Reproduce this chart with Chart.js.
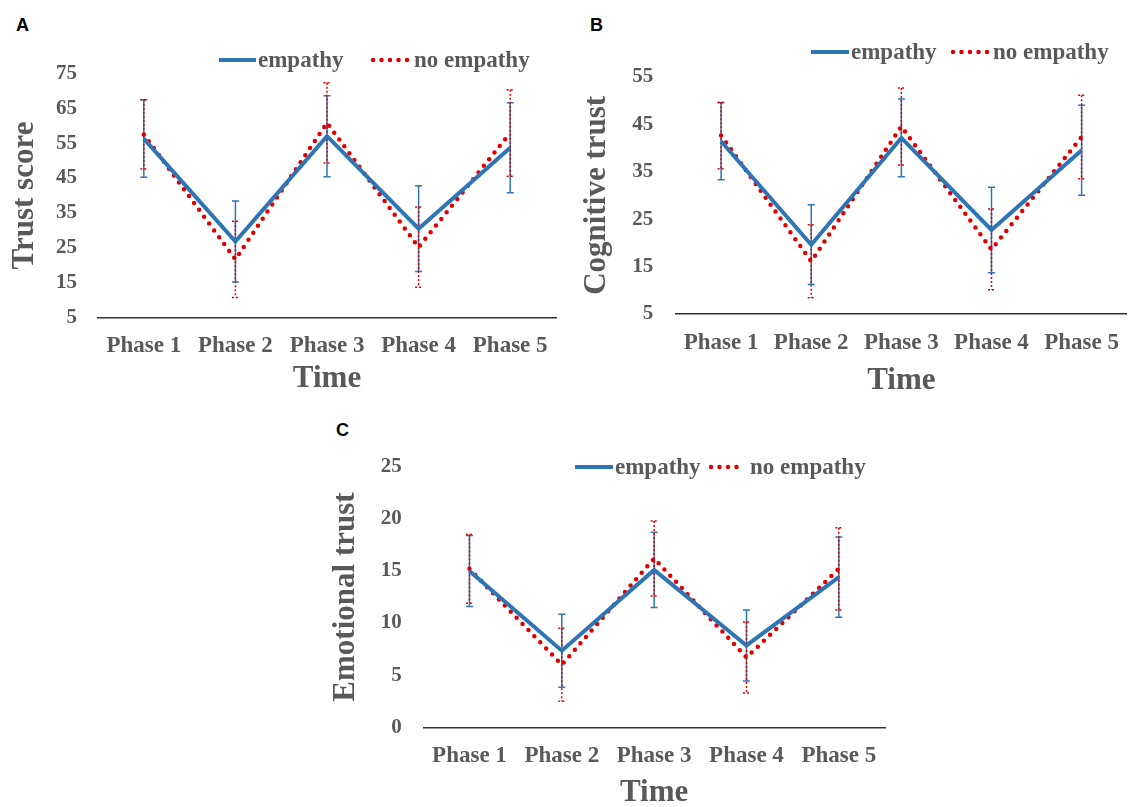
<!DOCTYPE html>
<html>
<head>
<meta charset="utf-8">
<script src="https://cdn.jsdelivr.net/npm/chart.js@4.4.0/dist/chart.umd.min.js"></script>
<style>
  html, body { margin: 0; padding: 0; background: #fff; }
  body { position: relative; width: 1134px; height: 807px; overflow: hidden; }
  canvas { position: absolute; }
  .letter { position: absolute; font: bold 18px 'Liberation Sans', Arial, sans-serif; line-height: 18px; color: #000; }
</style>
</head>
<body>
<div class="letter" style="left:16px;top:16px">A</div>
<div class="letter" style="left:590px;top:16px">B</div>
<div class="letter" style="left:336px;top:421px">C</div>
<canvas id="chartA" width="567" height="398" style="left:0;top:0"></canvas>
<canvas id="chartB" width="564" height="400" style="left:570px;top:0"></canvas>
<canvas id="chartC" width="580" height="395" style="left:320px;top:417px"></canvas>
<script>
// categories and series names
const phases = ['Phase 1', 'Phase 2', 'Phase 3', 'Phase 4', 'Phase 5'];
const seriesNames = ['empathy', 'no empathy'];

// A: trust score (mean and error)
const trustEmpathy = [56.3, 26.8, 57.0, 30.5, 53.7];
const trustEmpathyErr = [11.1, 11.6, 11.6, 12.3, 12.9];
const trustNoEmpathy = [57.5, 21.7, 60.8, 25.2, 57.9];
const trustNoEmpathyErr = [9.9, 10.9, 11.5, 11.5, 12.4];

// B: cognitive trust
const cogEmpathy = [41.4, 19.6, 42.1, 22.7, 39.5];
const cogEmpathyErr = [8.1, 8.4, 8.2, 9.0, 9.5];
const cogNoEmpathy = [42.6, 16.1, 44.5, 18.6, 42.3];
const cogNoEmpathyErr = [7.0, 7.7, 8.1, 8.5, 8.8];

// C: emotional trust
const emoEmpathy = [15.0, 7.35, 15.1, 7.85, 14.4];
const emoEmpathyErr = [3.4, 3.5, 3.6, 3.4, 3.85];
const emoNoEmpathy = [15.2, 6.0, 16.2, 6.7, 15.2];
const emoNoEmpathyErr = [3.3, 3.5, 3.6, 3.4, 3.95];

// y axis ranges [min, max, step]
const trustRange = [5, 75, 10];
const cogRange = [5, 55, 10];
const emoRange = [0, 25, 5];

const BLUE = '#2E75B6';
const RED = '#E00000';
const GREY = '#595959';
const SERIF = "'Liberation Serif', 'Times New Roman', serif";

// error bars, drawn under the lines
const errorBars = {
    id: 'errorBars',
    beforeDatasetsDraw(chart) {
        const ctx = chart.ctx;
        const y = chart.scales.y;
        chart.data.datasets.forEach((ds, di) => {
            const meta = chart.getDatasetMeta(di);
            ctx.save();
            ctx.strokeStyle = ds.borderColor;
            ctx.lineWidth = 1.5;
            ctx.setLineDash(ds.errDash);
            meta.data.forEach((pt, i) => {
                const top = y.getPixelForValue(ds.data[i] + ds.errors[i]);
                const bot = y.getPixelForValue(ds.data[i] - ds.errors[i]);
                ctx.beginPath();
                ctx.moveTo(pt.x, top); ctx.lineTo(pt.x, bot);
                ctx.moveTo(pt.x - 3.5, top); ctx.lineTo(pt.x + 3.5, top);
                ctx.moveTo(pt.x - 3.5, bot); ctx.lineTo(pt.x + 3.5, bot);
                ctx.stroke();
            });
            ctx.restore();
        });
    }
};

// legend drawn with the dataset line styles
function lineLegend(ly, items) {
    return {
        id: 'lineLegend',
        afterDraw(chart) {
            const ctx = chart.ctx;
            chart.data.datasets.forEach((ds, i) => {
                const [x1, x2, tx] = items[i];
                ctx.save();
                ctx.strokeStyle = ds.borderColor;
                ctx.lineWidth = ds.borderWidth;
                ctx.lineCap = ds.borderCapStyle || 'butt';
                ctx.setLineDash(ds.borderDash || []);
                ctx.beginPath();
                ctx.moveTo(x1, ly); ctx.lineTo(x2, ly);
                ctx.stroke();
                ctx.fillStyle = GREY;
                ctx.font = 'bold 23px ' + SERIF;
                ctx.textBaseline = 'middle';
                ctx.fillText(ds.label, tx, ly + 1);
                ctx.restore();
            });
        }
    };
}

function makeChart(id, yTitle, range, emp, empErr, noEmp, noEmpErr, lay) {
    return new Chart(document.getElementById(id), {
        type: 'line',
        data: {
            labels: phases,
            datasets: [
                {
                    label: seriesNames[0],
                    data: emp,
                    errors: empErr,
                    errDash: [],
                    borderColor: BLUE,
                    borderWidth: 4,
                    pointRadius: 0,
                    tension: 0
                },
                {
                    label: seriesNames[1],
                    data: noEmp,
                    errors: noEmpErr,
                    errDash: [2, 2],
                    borderColor: RED,
                    borderWidth: 4.5,
                    borderDash: [0, 8.5],
                    borderCapStyle: 'round',
                    pointRadius: 0,
                    tension: 0
                }
            ]
        },
        options: {
            responsive: false,
            animation: false,
            events: [],
            layout: { padding: { top: lay.areaTop, right: lay.padRight, bottom: 0, left: 0 } },
            plugins: { legend: { display: false }, tooltip: { enabled: false } },
            scales: {
                x: {
                    offset: true,
                    grid: { display: false, drawTicks: false },
                    border: { display: true, color: '#333', width: 1.5 },
                    ticks: { color: GREY, font: { family: SERIF, size: 23, weight: 'bold' }, padding: 15, maxRotation: 0, autoSkip: false },
                    title: { display: true, text: 'Time', color: GREY, font: { family: SERIF, size: 31, weight: 'bold' }, padding: 0 },
                    afterFit: s => { s.height = lay.xAxisHeight; }
                },
                y: {
                    min: range[0],
                    max: range[1],
                    grid: { display: false, drawTicks: false },
                    border: { display: false },
                    ticks: { stepSize: range[2], color: GREY, font: { family: SERIF, size: 21, weight: 'bold' }, padding: lay.yTickPad },
                    title: { display: true, text: yTitle, color: GREY, font: { family: SERIF, size: 31, weight: 'bold' }, padding: { top: lay.yTitlePad, bottom: 0 } },
                    afterFit: s => { s.width = lay.yAxisWidth; }
                }
            }
        },
        plugins: [errorBars, lineLegend(lay.legendY, lay.legend)]
    });
}

document.addEventListener('DOMContentLoaded', function() {
    makeChart('chartA', 'Trust score', trustRange, trustEmpathy, trustEmpathyErr, trustNoEmpathy, trustNoEmpathyErr, {
        areaTop: 73.3, yAxisWidth: 98, xAxisHeight: 80.3, padRight: 11, yTickPad: 21, yTitlePad: 6.5,
        legendY: 60, legend: [[219, 256, 258], [373, 409, 414]]
    });
    makeChart('chartB', 'Cognitive trust', cogRange, cogEmpathy, cogEmpathyErr, cogNoEmpathy, cogNoEmpathyErr, {
        areaTop: 76.7, yAxisWidth: 106, xAxisHeight: 86, padRight: 0, yTickPad: 22.7, yTitlePad: 8.4,
        legendY: 52, legend: [[241, 279, 281], [383, 418, 423]]
    });
    makeChart('chartC', 'Emotional trust', emoRange, emoEmpathy, emoEmpathyErr, emoNoEmpathy, emoNoEmpathyErr, {
        areaTop: 49.7, yAxisWidth: 103.3, xAxisHeight: 84.7, padRight: 15, yTickPad: 21.6, yTitlePad: 7.2,
        legendY: 50, legend: [[255, 293, 295], [391, 425, 430]]
    });
});
</script>
</body>
</html>
